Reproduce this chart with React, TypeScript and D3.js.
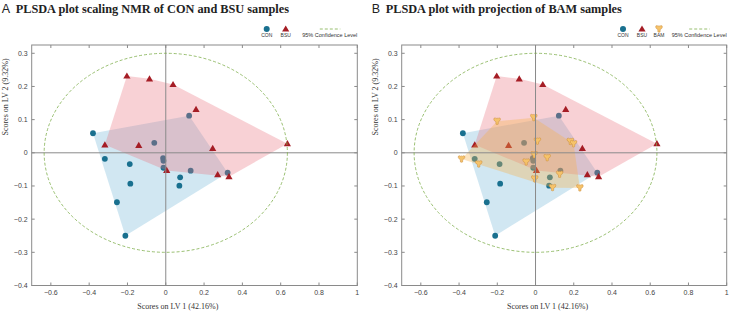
import React from "react";
import * as d3 from "d3";

// ---- data ----
const conX = [-0.38, -0.318, -0.188, -0.185, -0.255, -0.211, -0.06, 0.122, -0.014, -0.012, -0.012, 0.13, 0.075, 0.071, 0.323];
const conY = [0.059, -0.018, -0.034, -0.093, -0.149, -0.25, 0.03, 0.112, -0.016, -0.024, -0.045, -0.054, -0.074, -0.099, -0.06];
const bsuX = [-0.203, -0.085, 0.038, 0.158, -0.318, -0.141, 0.245, 0.635, 0.005, 0.271, 0.33];
const bsuY = [0.2315, 0.223, 0.206, 0.131, 0.024, 0.0225, 0.0135, 0.0275, -0.053, -0.066, -0.072];
const bamX = [-0.201, -0.009, -0.387, -0.297, 0.01, -0.007, 0.061, -0.049, 0.182, 0.199, 0.126, -0.004, 0.089, 0.232];
const bamY = [0.095, 0.106, -0.019, -0.034, 0.035, -0.006, -0.015, -0.028, 0.034, 0.027, -0.065, -0.079, -0.105, -0.106];

const xTicks = [-0.6, -0.4, -0.2, 0, 0.2, 0.4, 0.6, 0.8, 1];
const yTicks = [0.3, 0.2, 0.1, 0, -0.1, -0.2, -0.3, -0.4];
const xDomain: [number, number] = [-0.7, 1];
const yDomain: [number, number] = [-0.4, 0.325];
const ellipseR = { rx: 0.635, ry: 0.3 };

const titles = ["PLSDA plot scaling NMR of CON and BSU samples", "PLSDA plot with projection of BAM samples"];
const letters = ["A", "B"];
const xLabel = "Scores on LV 1 (42.16%)";
const yLabel = "Scores on LV 2 (9.32%)";

const C_CON = "#19708f";
const C_BSU = "#a51d25";
const TICK_FONT = "'Liberation Sans', Arial, sans-serif";
const SERIF = "'Liberation Serif', 'Times New Roman', serif";

const triPath = "M0,-3.6 L3.6,2.6 L-3.6,2.6 Z";
const bamPath =
  "M-3.3,-1.8 Q-3.6,-3.6 -1.9,-3.4 Q-1.0,-2.4 0,-3.2 Q1.0,-2.4 1.9,-3.4 Q3.6,-3.6 3.3,-1.8 Q3.0,-0.2 1.2,0.5 L1.1,2.9 Q0,3.5 -1.1,2.9 L-1.2,0.5 Q-3.0,-0.2 -3.3,-1.8 Z";

type PanelProps = { x0: number; x1: number; idx: number; withBam: boolean };

function Panel({ x0, x1, idx, withBam }: PanelProps) {
  const y0 = 45;
  const y1 = 285.5;
  const xs = d3.scaleLinear().domain(xDomain).range([x0, x1]);
  const ys = d3.scaleLinear().domain(yDomain).range([y1, y0]);
  const con = conX.map((v, i) => [xs(v), ys(conY[i])] as [number, number]);
  const bsu = bsuX.map((v, i) => [xs(v), ys(bsuY[i])] as [number, number]);
  const bam = bamX.map((v, i) => [xs(v), ys(bamY[i])] as [number, number]);
  const hull = (pts: [number, number][]) => {
    const h = d3.polygonHull(pts);
    return h ? "M" + h.map((p) => p.join(",")).join("L") + "Z" : "";
  };
  const cx = xs(0);
  const cy = ys(0);
  const erx = xs(ellipseR.rx) - xs(0);
  const ery = ys(0) - ys(ellipseR.ry);
  const axisC = "#8a8a8a";
  const tickC = "#444";

  // legend positions
  const legY = 29;
  const legTextY = 37;
  const legend = withBam
    ? { con: x1 - 103.7, bsu: x1 - 84.7, bam: x1 - 67.7 }
    : { con: x1 - 90.6, bsu: x1 - 71.6, bam: 0 };

  return (
    <g>
      {/* title */}
      <text x={x0 - 30} y={13} fontFamily={TICK_FONT} fontSize={12.5} fill="#222">
        {letters[idx]}
      </text>
      <text x={x0 - 16} y={13} fontFamily={SERIF} fontWeight="bold" fontSize={12.3} fill="#222">
        {titles[idx]}
      </text>

      {/* legend */}
      <circle cx={legend.con} cy={legY} r={3} fill={C_CON} />
      <text x={legend.con} y={legTextY} fontSize={5} textAnchor="middle" fontFamily={TICK_FONT} fill="#333">CON</text>
      <path d={triPath} transform={`translate(${legend.bsu},${legY})`} fill={C_BSU} />
      <text x={legend.bsu} y={legTextY} fontSize={5} textAnchor="middle" fontFamily={TICK_FONT} fill="#333">BSU</text>
      {withBam && (
        <>
          <path d={bamPath} transform={`translate(${legend.bam},${legY})`} fill="#f6c36a" stroke="#c98a3a" strokeWidth={0.5} />
          <text x={legend.bam} y={legTextY} fontSize={5} textAnchor="middle" fontFamily={TICK_FONT} fill="#333">BAM</text>
        </>
      )}
      <line x1={x1 - 37.5} x2={x1 - 17} y1={legY} y2={legY} stroke="#7fae4c" strokeWidth={0.8} strokeDasharray="3,2" />
      <text x={x1} y={legTextY} fontSize={5.5} textAnchor="end" fontFamily={TICK_FONT} fill="#333">95% Confidence Level</text>

      {/* hulls and points, layered */}
      <path d={hull(con)} fill="#8cc4de" fillOpacity={0.4} />
      {con.map((p, i) => (
        <circle key={"c" + i} cx={p[0]} cy={p[1]} r={2.9} fill={C_CON} />
      ))}
      <path d={hull(bsu)} fill="#e8707c" fillOpacity={0.32} />
      {bsu.map((p, i) => (
        <path key={"b" + i} d={triPath} transform={`translate(${p[0]},${p[1]})`} fill={C_BSU} />
      ))}
      {withBam && (
        <>
          <path d={hull(bam)} fill="#f5b24a" fillOpacity={0.35} />
          {bam.map((p, i) => (
            <path key={"m" + i} d={bamPath} transform={`translate(${p[0]},${p[1]})`} fill="#f6c36a" stroke="#c98a3a" strokeWidth={0.5} />
          ))}
        </>
      )}

      {/* cross lines */}
      <line x1={cx} x2={cx} y1={y0} y2={y1} stroke={axisC} strokeWidth={1} />
      <line x1={x0} x2={x1} y1={cy} y2={cy} stroke={axisC} strokeWidth={1} />

      {/* confidence ellipse */}
      <ellipse cx={cx} cy={cy} rx={erx} ry={ery} fill="none" stroke="#7fae4c" strokeWidth={0.8} strokeDasharray="3,2" />

      {/* box */}
      <rect x={x0} y={y0} width={x1 - x0} height={y1 - y0} fill="none" stroke={axisC} strokeWidth={1} />

      {/* ticks */}
      {xTicks.map((t) => (
        <g key={"xt" + t}>
          <line x1={xs(t)} x2={xs(t)} y1={y1} y2={y1 - 3} stroke={axisC} />
          <line x1={xs(t)} x2={xs(t)} y1={y0} y2={y0 + 3} stroke={axisC} />
          <text x={xs(t)} y={y1 + 9.5} fontSize={7} textAnchor="middle" fontFamily={TICK_FONT} fill={tickC}>
            {d3.format("")(t)}
          </text>
        </g>
      ))}
      {yTicks.map((t) => (
        <g key={"yt" + t}>
          <line x1={x0} x2={x0 + 3} y1={ys(t)} y2={ys(t)} stroke={axisC} />
          <line x1={x1} x2={x1 - 3} y1={ys(t)} y2={ys(t)} stroke={axisC} />
          <text x={x0 - 4} y={ys(t) + 2.5} fontSize={7} textAnchor="end" fontFamily={TICK_FONT} fill={tickC}>
            {d3.format("")(t)}
          </text>
        </g>
      ))}

      {/* axis labels */}
      <text x={xs(0) + 12} y={309} fontSize={8} textAnchor="middle" fontFamily={SERIF} fill="#333">
        {xLabel}
      </text>
      <text
        transform={`translate(${x0 - 23.5},${97}) rotate(-90)`}
        fontSize={8}
        textAnchor="middle"
        fontFamily={SERIF}
        fill="#333"
      >
        {yLabel}
      </text>
    </g>
  );
}

export default function App() {
  return (
    <svg width={730} height={312} style={{ position: "absolute", left: 0, top: 0, background: "#fff" }}>
      <rect x={0} y={0} width={730} height={312} fill="#fff" />
      <Panel x0={31.7} x1={357.3} idx={0} withBam={false} />
      <Panel x0={401.7} x1={726.7} idx={1} withBam={true} />
    </svg>
  );
}
